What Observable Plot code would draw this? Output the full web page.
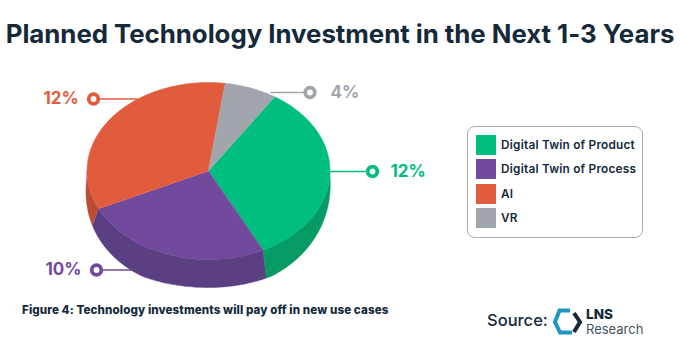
<!DOCTYPE html>
<html>
<head>
<meta charset="utf-8">
<script src="https://cdn.jsdelivr.net/npm/d3@7"></script>
<script src="https://cdn.jsdelivr.net/npm/@observablehq/plot@0.6"></script>
<style>
html,body{margin:0;padding:0;background:#fff}
#page{position:relative;width:680px;height:356px;overflow:hidden;font-family:Inter,sans-serif;color:#14293a}
#page>*{position:absolute}
#title{left:0;width:680px;top:17.5px;margin:0;text-align:center;font-size:25.8px;font-weight:700;line-height:32px;white-space:nowrap;letter-spacing:-.02px}
#caption{left:22px;top:303px;font-size:11.6px;font-weight:800;line-height:14px;white-space:nowrap;letter-spacing:.1px}
#legend{left:467px;top:126px;width:174px;height:110px;border:1px solid #a9adb1;border-radius:8px;background:#fff}
.row{position:absolute;left:8px;height:20px;display:flex;align-items:center;font-size:11.8px;font-weight:600;white-space:nowrap;letter-spacing:.22px}
.row i{display:block;width:20px;height:20px;margin-right:5px}
#source{left:487px;top:309px;font-size:16.5px;font-weight:500;line-height:22px}
#lns{left:586px;top:307px;font-size:13.5px;font-weight:800;line-height:15px}
#research{left:586px;top:321px;font-size:13px;font-weight:400;line-height:16px;color:#44545f}
#logo{left:550px;top:306px}
</style>
</head>
<body>
<div id="page">
  <h1 id="title">Planned Technology Investment in the Next 1-3 Years</h1>
  <div id="chart"></div>
  <div id="legend"></div>
  <div id="caption">Figure 4: Technology investments will pay off in new use cases</div>
  <div id="source">Source:</div>
  <svg id="logo" width="34" height="32">
    <polyline points="20,4.5 9.5,4.5 5,16 10,26.5 22,26.5" fill="none" stroke="#1f97c0" stroke-width="4"/>
    <polyline points="24,7 30,16 24,26" fill="none" stroke="#14293a" stroke-width="4"/>
  </svg>
  <div id="lns">LNS</div>
  <div id="research">Research</div>
</div>
<script>
const categories = ["Digital Twin of Product", "Digital Twin of Process", "AI", "VR"];
const labels = ["12%", "10%", "12%", "4%"];
// share of the drawn pie, as measured in the picture (percent of the full circle)
const drawnShares = [33.4, 25.4, 34.2, 7.0];
const topColors = ["#00bd80", "#714a9d", "#e15c3c", "#a0a6ac"];
const sideColors = ["#069b64", "#5a3f82", "#bb4d34", "#80868c"];

// layout
const W = 680, H = 356;
const cx = 208, cy = 170.5, rx = 121.5, ry = 88.5;
const startDeg = 33.1;
const ringX = [372, 96, 93, 309.5], ringY = [171, 269.5, 98.5, 92];
const leadX = [330, 140, 137, 270];
const labelX = [390, 45, 43, 330];

const rad = Math.PI / 180;
const arcs = d3.pie().sort(null)
  .startAngle(startDeg * rad).endAngle((startDeg + 360) * rad)(drawnShares);

const angles = (a0, a1) => {
  const n = Math.max(2, Math.ceil((a1 - a0) / rad));
  return d3.range(n + 1).map(i => a0 + (a1 - a0) * i / n);
};
const topPt = a => ({x: cx + rx * Math.sin(a), y: cy - ry * Math.cos(a)});
const botPt = a => {
  const c = Math.max(0, -Math.cos(a));
  const depth = 6 + 22 * Math.min(1, c * 1.15);
  const k = Math.sin(a) < 0 ? 8 : 4;
  const p = topPt(a);
  return {x: p.x - k * Math.sin(2 * a), y: p.y + depth};
};

const marks = [];
// visible side walls: only the front half, 90..270 degrees clockwise from the top
arcs.forEach((d, i) => {
  for (const shift of [0, 2 * Math.PI]) {
    const a0 = Math.max(d.startAngle, 90 * rad + shift);
    const a1 = Math.min(d.endAngle, 270 * rad + shift);
    if (a1 <= a0) continue;
    const as = angles(a0, a1);
    const pts = [...as.map(topPt), ...as.slice().reverse().map(botPt)];
    marks.push(Plot.line(pts, {x: "x", y: "y", fill: sideColors[i], stroke: sideColors[i], strokeWidth: 0.5, curve: "linear"}));
  }
});
// top faces
arcs.forEach((d, i) => {
  const pts = [{x: cx, y: cy}, ...angles(d.startAngle, d.endAngle).map(topPt)];
  marks.push(Plot.line(pts, {x: "x", y: "y", fill: topColors[i], stroke: topColors[i], strokeWidth: 0.5, curve: "linear"}));
});
// callouts
const callouts = categories.map((c, i) => ({
  c, label: labels[i], color: topColors[i],
  rx: ringX[i], ry: ringY[i], lx: leadX[i], tx: labelX[i]
}));
marks.unshift(Plot.link(callouts, {x1: "lx", x2: "rx", y1: "ry", y2: "ry", stroke: "color", strokeWidth: 1.6}));
marks.push(Plot.dot(callouts, {x: "rx", y: "ry", r: 4.8, fill: "white", stroke: "color", strokeWidth: 3.8}));
marks.push(Plot.text(callouts, {x: "tx", y: "ry", text: "label", fill: "color", textAnchor: "start", fontSize: 17, fontWeight: 700, fontFamily: "Inter, sans-serif"}));

const chart = Plot.plot({
  width: W, height: H, margin: 0,
  x: {domain: [0, W], range: [0, W], axis: null},
  y: {domain: [0, H], range: [0, H], axis: null},
  color: {type: "identity"},
  marks
});
document.getElementById("chart").appendChild(chart);

// legend
const legend = document.getElementById("legend");
categories.forEach((c, i) => {
  const row = document.createElement("div");
  row.className = "row";
  row.style.top = (8 + i * 24.3) + "px";
  const sw = document.createElement("i");
  sw.style.background = topColors[i];
  row.appendChild(sw);
  row.appendChild(document.createTextNode(c));
  legend.appendChild(row);
});
</script>
</body>
</html>
